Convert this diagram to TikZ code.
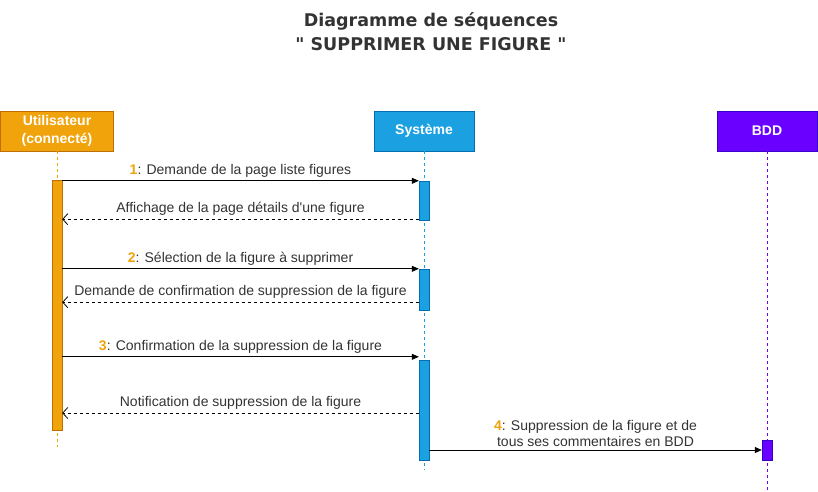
\documentclass[tikz,border=0pt]{standalone}
\usepackage{fontspec}
\setmainfont{Liberation Sans}
\newfontfamily\titlefont{DejaVu Sans}
\usetikzlibrary{arrows.meta,positioning}
\definecolor{usrfill}{HTML}{F0A30A}
\definecolor{usrline}{HTML}{BD7000}
\definecolor{sysfill}{HTML}{1BA1E2}
\definecolor{sysline}{HTML}{006EAF}
\definecolor{bddfill}{HTML}{6A00FF}
\definecolor{bddline}{HTML}{3700CC}
\definecolor{txtgray}{HTML}{333333}
\newcommand{\msgnum}[1]{\textcolor{usrfill}{\textbf{#1}}}
\begin{document}
\begin{tikzpicture}[x=1pt,y=-1pt,
  actor/.style={draw=#1line, fill=#1fill, text=white, align=center,
    font=\bfseries\fontsize{14}{18}\selectfont, minimum width=100pt, minimum height=40pt},
  bar/.style={draw=#1line, fill=#1fill, minimum width=10pt, inner sep=0pt},
  life/.style={draw=#1fill, dash pattern=on 3pt off 3pt, line width=0.8pt},
  msg/.style={-{Triangle[length=7pt,width=6pt]}, line width=0.8pt},
  reply/.style={-{Straight Barb[length=5pt,width=11pt]}, dashed, line width=0.8pt},
  lbl/.style={midway, above=0pt, text=txtgray, font=\fontsize{14}{16}\selectfont, align=center}]
\useasboundingbox (0,0) rectangle (818,491);

% titre
\node[text=txtgray, align=center, font=\titlefont\bfseries\fontsize{17.5}{24}\selectfont]
  (title) at (431,32) {Diagramme de séquences\\" SUPPRIMER UNE FIGURE "};

% acteurs
\node[actor=usr, minimum width=113pt] (user) at (57,131) {Utilisateur\\(connecté)};
\node[actor=sys] (sys) at (424,131) {Système};
\node[actor=bdd] (bdd) at (767,131) {BDD};

% lignes de vie
\coordinate (userend) at (57,447);
\coordinate (sysend) at (424,470);
\coordinate (bddend) at (767,491);
\draw[life=usr] (user) -- (userend);
\draw[life=sys] (sys) -- (sysend);
\draw[life=bdd] (bdd) -- (bddend);

% activations
\node[bar=usr, minimum height=250pt] (u) at (57,305) {};
\node[bar=sys, minimum height=39pt] (s1) at (424,200.5) {};
\node[bar=sys, minimum height=41pt] (s2) at (424,289.5) {};
\node[bar=sys, minimum height=100pt] (s3) at (424,410) {};
\node[bar=bdd, minimum height=20pt] (b1) at (767,450) {};

% messages
\draw[msg] (u.east |- s1.north) -- (s1.north west)
  node[lbl] {\msgnum{1}: Demande de la page liste figures};
\draw[reply] ([yshift=1pt]s1.south west) -- ([yshift=1pt]u.east |- s1.south)
  node[lbl] {Affichage de la page détails d\textquotesingle une figure};
\draw[msg] (u.east |- s2.north) -- (s2.north west)
  node[lbl] {\msgnum{2}: Sélection de la figure à supprimer};
\draw[reply] ([yshift=8pt]s2.south west) -- ([yshift=8pt]u.east |- s2.south)
  node[lbl] {Demande de confirmation de suppression de la figure};
\draw[msg] ([yshift=3pt]u.east |- s3.north) -- ([yshift=3pt]s3.north west)
  node[lbl] {\msgnum{3}: Confirmation de la suppression de la figure};
\draw[reply] ([yshift=-3pt]s3.west) -- ([yshift=-3pt]u.east |- s3.west)
  node[lbl] {Notification de suppression de la figure};
\draw[msg] (s3.east |- b1.west) -- (b1.west)
  node[lbl] {\msgnum{4}: Suppression de la figure et de\\tous ses commentaires en BDD};
\end{tikzpicture}
\end{document}
